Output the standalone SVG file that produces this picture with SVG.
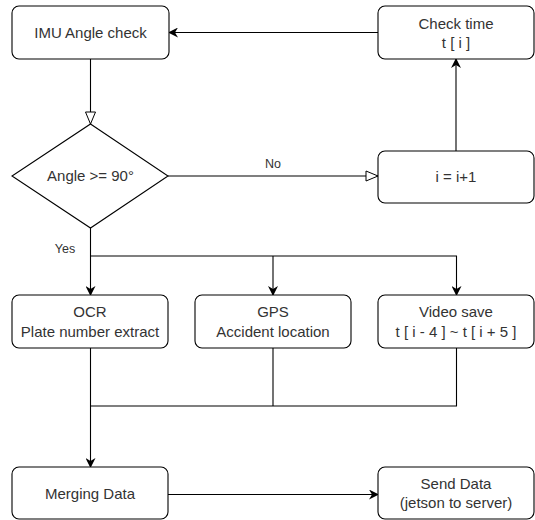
<svg xmlns="http://www.w3.org/2000/svg" width="535" height="520" viewBox="0 0 535 520">
<defs>
<marker id="arr" viewBox="0 0 10 10" refX="9" refY="5" markerWidth="10" markerHeight="10" markerUnits="userSpaceOnUse" orient="auto">
<path d="M0,0 L10,5 L0,10 L3,5 z" fill="#000"/>
</marker>
<marker id="open" viewBox="0 0 14 12" refX="13" refY="6" markerWidth="14" markerHeight="12" markerUnits="userSpaceOnUse" orient="auto">
<path d="M1,1 L13,6 L1,11 z" fill="#fff" stroke="#000" stroke-width="1"/>
</marker>
<style>
.box{fill:#fff;stroke:#000;stroke-width:1.1}
.t{font-family:"Liberation Sans",Arial,sans-serif;font-size:15px;fill:#333;text-anchor:middle}
.c{fill:none;stroke:#000;stroke-width:1.1}
</style>
</defs>
<rect width="535" height="520" fill="#fff"/>
<g id="connectors">
<path class="c" d="M378,32.5 H169" marker-end="url(#arr)"/>
<path class="c" d="M90.5,59 V124" marker-end="url(#open)"/>
<path class="c" d="M168,176 H378" marker-end="url(#open)"/>
<path class="c" d="M456,151 V59" marker-end="url(#arr)"/>
<path class="c" d="M90.5,228 V295" marker-end="url(#arr)"/>
<path class="c" d="M90.5,256 H456.5 V295" marker-end="url(#arr)"/>
<path class="c" d="M273,256 V295" marker-end="url(#arr)"/>
<path class="c" d="M90.5,348 V467" marker-end="url(#arr)"/>
<path class="c" d="M273,348 V406 M456.5,348 V406 H90.5"/>
<path class="c" d="M168,494.5 H378" marker-end="url(#arr)"/>
<text class="t" x="273" y="168" font-size="12" style="font-size:12.5px">No</text>
<text class="t" x="65" y="253" style="font-size:12.5px">Yes</text>
</g>
<g id="imu"><rect class="box" x="12" y="6" width="157" height="53" rx="7"/><text class="t" x="90.5" y="38">IMU Angle check</text></g>
<g id="checktime"><rect class="box" x="378" y="6" width="156" height="53" rx="7"/><text class="t" x="456" y="28.5">Check time</text><text class="t" x="456" y="47.5">t [ i ]</text></g>
<g id="decision"><path class="box" d="M90.5,124 L168,176 L90.5,228 L12,176 Z"/><text class="t" x="90.5" y="181">Angle &gt;= 90°</text></g>
<g id="incr"><rect class="box" x="378" y="151" width="156" height="52" rx="7"/><text class="t" x="456" y="182">i = i+1</text></g>
<g id="ocr"><rect class="box" x="12" y="295" width="156" height="53" rx="7"/><text class="t" x="90" y="317">OCR</text><text class="t" x="90" y="337">Plate number extract</text></g>
<g id="gps"><rect class="box" x="195" y="295" width="156" height="53" rx="7"/><text class="t" x="273" y="317">GPS</text><text class="t" x="273" y="337">Accident location</text></g>
<g id="video"><rect class="box" x="378" y="295" width="156" height="53" rx="7"/><text class="t" x="456" y="317">Video save</text><text class="t" x="456" y="337">t [ i - 4 ] ~ t [ i + 5 ]</text></g>
<g id="merge"><rect class="box" x="12" y="467" width="156" height="52" rx="7"/><text class="t" x="90" y="499">Merging Data</text></g>
<g id="send"><rect class="box" x="378" y="467" width="156" height="52" rx="7"/><text class="t" x="456" y="489">Send Data</text><text class="t" x="456" y="508">(jetson to server)</text></g>
</svg>
